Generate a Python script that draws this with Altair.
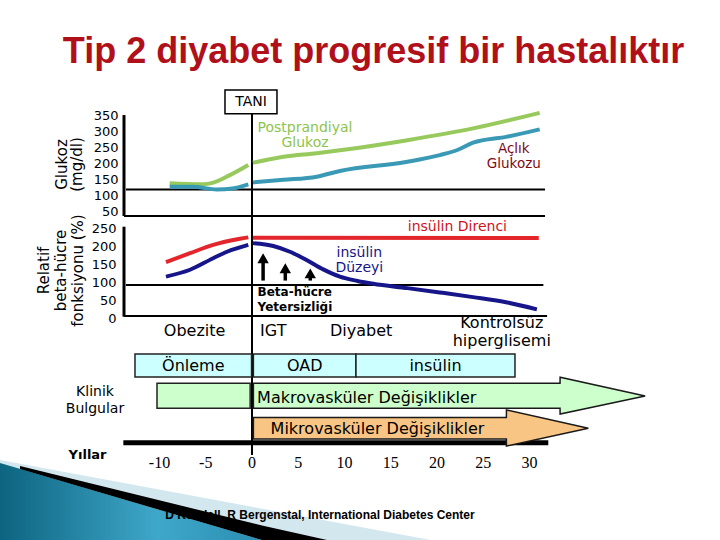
import altair as alt
import pandas as pd

# ----------------------------- data -----------------------------
year_ticks = [-10, -5, 0, 5, 10, 15, 20, 25, 30]
glucose_ticks = [50, 100, 150, 200, 250, 300, 350]
beta_ticks = [0, 50, 100, 150, 200, 250]

# Postprandial glucose (mg/dl), years relative to diagnosis
ppg_year = [-8.9, -5.6, -4.5, -2.4, -0.4, 0.1, 3.4, 7.0, 9.5, 16.8, 23.9, 31.1]
ppg_value = [137, 134, 137, 163, 195, 202, 221, 232, 241, 273, 310, 359]
# Fasting glucose (mg/dl)
fpg_year = [-8.9, -6.4, -3.8, -2.1, -0.4, 0.1, 3.4, 7.0, 9.5, 16.8, 20.3, 22.2, 23.9, 27.6, 31.1]
fpg_value = [126, 126, 118, 121, 134, 140, 148, 158, 176, 205, 226, 242, 265, 284, 307]
# Insulin resistance (%)
res_year = [-9.3, -6.7, -4.2, -1.3, -0.4, 0.1, 31.0]
res_value = [155, 180, 203, 220, 224, 223, 222]
# Insulin level (%)
ins_year = [-9.3, -6.7, -4.2, -2.7, -0.4, 0.1, 2.3, 4.1, 5.9, 7.7, 9.5, 11.4, 13.1, 16.8, 20.3, 23.9, 27.6, 30.8]
ins_value = [115, 134, 166, 184, 203, 208, 200, 184, 161, 135, 115, 103, 95, 83, 71, 58, 43, 24]
# Beta-cell failure arrows
arrow_year = [1.2, 3.6, 6.3]
arrow_top = [180, 152, 138]
arrow_base = [104, 104, 104]

glucose_ref = [118]
beta_ref = [92]

phase_label = ["Obezite", "IGT", "Diyabet", "Kontrolsüz\nhiperglisemi"]
phase_year = [-6.2, 2.3, 11.8, 27.0]

therapy_label = ["Önleme", "OAD", "insülin"]
therapy_start = [-12.65, 0.15, 11.24]
therapy_end = [-0.05, 11.24, 28.43]

macro_pre = [-10.27, -0.2]
macro_year = [0.15, 33.3, 33.31, 42.5]
micro_year = [0.15, 27.5, 27.51, 36.36]

# ----------------------------- layout / scales -----------------------------
FONT = "DejaVu Sans"
W, H = 720, 540
LEFT = 124
X0_PX, X_K = 252, 9.25          # year 0 position, px per year
XMIN = (LEFT - X0_PX) / X_K
XMAX = (W - X0_PX) / X_K
G50_PX, G_K = 211, 0.3177        # glucose scale geometry
B0_PX, B_K = 318, 0.36           # beta-function scale geometry
R0_PX, R_K = 331, 33             # row (lane) scale geometry

X_SCALE = alt.Scale(domain=[XMIN, XMAX], nice=False, zero=False)
GLU_SCALE = alt.Scale(domain=[50 - (H - G50_PX) / G_K, 50 + G50_PX / G_K], nice=False, zero=False)
BETA_SCALE = alt.Scale(domain=[-(H - B0_PX) / B_K, B0_PX / B_K], nice=False, zero=False)
ROW_SCALE = alt.Scale(domain=[-R0_PX / R_K, (H - R0_PX) / R_K], nice=False, zero=False, reverse=True)

GLU_AXIS = alt.Axis(orient="left", values=glucose_ticks, domain=False, ticks=False, tickSize=0, grid=False,
                    labelFont=FONT, labelFontSize=13, labelColor="black", labelPadding=6,
                    title=["Glukoz", "(mg/dl)"], titleFont=FONT, titleFontSize=15, titleFontWeight="normal",
                    titleColor="black", titleAngle=270, titleX=-63, titleY=164, titleAlign="center",
                    titleBaseline="middle", titleLineHeight=15)
BETA_AXIS = alt.Axis(orient="left", values=beta_ticks, domain=False, ticks=False, tickSize=0, grid=False,
                     labelFont=FONT, labelFontSize=13, labelColor="black", labelPadding=8,
                     title=["Relatif", "beta-hücre", "fonksiyonu (%)"], titleFont=FONT, titleFontSize=15,
                     titleFontWeight="normal", titleColor="black", titleAngle=270, titleX=-81, titleY=270,
                     titleAlign="center", titleBaseline="middle", titleLineHeight=17)


def ex(f):
    return alt.X(f"{f}:Q", scale=X_SCALE, axis=None)


def ex2(f):
    return alt.X2(f"{f}:Q")


def eg(f):
    return alt.Y(f"{f}:Q", scale=GLU_SCALE, axis=GLU_AXIS)


def eb(f):
    return alt.Y(f"{f}:Q", scale=BETA_SCALE, axis=BETA_AXIS)


def er(f):
    return alt.Y(f"{f}:Q", scale=ROW_SCALE, axis=None)


def ey2(f):
    return alt.Y2(f"{f}:Q")


def df(**cols):
    return pd.DataFrame(cols)


def text_layer(data, enc_y, **mark):
    style = dict(font=FONT, fontSize=16, color="black", align="center", baseline="middle", lineBreak="\n")
    style.update(mark)
    return alt.Chart(data).mark_text(**style).encode(x=ex("x"), y=enc_y("y"), text="t:N")


def curve(years, values, enc_y, color):
    return (alt.Chart(df(year=years, v=values))
            .transform_calculate(seg="datum.year < 0 ? 'pre' : 'post'")
            .mark_line(color=color, strokeWidth=4, interpolate="monotone")
            .encode(x=ex("year"), y=enc_y("v"), detail="seg:N"))


# ----------------------------- background (slide decoration, rows) -----------------------------
teal = alt.LinearGradient(gradient="linear", x1=0, x2=1, y1=0, y2=0,
                          stops=[alt.GradientStop(color="#0C6480", offset=0),
                                 alt.GradientStop(color="#3FA7C9", offset=0.6),
                                 alt.GradientStop(color="#2A8FB2", offset=1)])
sw_light = alt.Chart(df(x=[-27.24, 19.3], y=[3.91, 6.333], y2=[6.333, 6.333])).mark_area(
    color="#D3E7EF").encode(x=ex("x"), y=er("y"), y2=ey2("y2"))
sw_teal = alt.Chart(df(x=[-27.24, 1.08], y=[4.0, 6.333], y2=[6.333, 6.333])).mark_area(
    color=teal).encode(x=ex("x"), y=er("y"), y2=ey2("y2"))
credit = text_layer(df(x=[7.35], y=[5.58], t=["D Kendall, R Bergenstal, International Diabetes Center"]), er,
                    font="Liberation Sans", fontWeight="bold", fontSize=12)
sw_black = alt.Chart(df(x=[-25.08, 1.08, 8.11], y=[4.091, 5.894, 6.333], y2=[4.179, 6.333, 6.333])).mark_area(
    color="black").encode(x=ex("x"), y=er("y"), y2=ey2("y2"))
tani_line = alt.Chart(df(x=[0.0], y=[-6.58], y2=[3.76])).mark_rule(color="black", strokeWidth=2).encode(
    x=ex("x"), y=er("y"), y2=ey2("y2"))
year_line = alt.Chart(df(x=[-13.91], x2=[32.03], y=[3.385])).mark_rule(color="black", strokeWidth=5).encode(
    x=ex("x"), x2=ex2("x2"), y=er("y"))
background = alt.layer(sw_light, sw_teal, credit, sw_black, tani_line, year_line)

# ----------------------------- glucose panel -----------------------------
glu_h = alt.Chart(df(x=[-13.62], x2=[31.68], y=glucose_ref)).mark_rule(color="black", strokeWidth=2).encode(
    x=ex("x"), x2=ex2("x2"), y=eg("y"))
glu_v = alt.Chart(df(x=[XMIN], y=[352], y2=[34.3])).mark_rule(color="black", strokeWidth=3).encode(
    x=ex("x"), y=eg("y"), y2=ey2("y2"))
ppg = curve(ppg_year, ppg_value, eg, "#97C95C")
fpg = curve(fpg_year, fpg_value, eg, "#3A9AB6")
ppg_lab = text_layer(df(x=[5.73], y=[310.3], t=["Postprandiyal\nGlukoz"]), eg, fontSize=14,
                     color="#8DC44E", lineHeight=15)
fpg_lab = text_layer(df(x=[28.3], y=[246.0], t=["Açlık\nGlukozu"]), eg, fontSize=13.5,
                     color="#7F0A14", lineHeight=15)
glucose = alt.layer(glu_h, glu_v, ppg, fpg, ppg_lab, fpg_lab)

# ----------------------------- beta-cell panel -----------------------------
beta_h = alt.Chart(df(x=[XMIN, XMIN + 0.2, XMIN], x2=[31.68, 31.5, 31.9], y=[283.3, beta_ref[0], 5.6])).mark_rule(
    color="black", strokeWidth=2).encode(x=ex("x"), x2=ex2("x2"), y=eb("y"))
beta_v = alt.Chart(df(x=[XMIN], y=[253.6], y2=[3.6])).mark_rule(color="black", strokeWidth=3).encode(
    x=ex("x"), y=eb("y"), y2=ey2("y2"))
res = curve(res_year, res_value, eb, "#E3262B")
ins = curve(ins_year, ins_value, eb, "#16168A")
arrows = alt.Chart(df(x=arrow_year, top=arrow_top, base=arrow_base))
shafts = arrows.transform_calculate(stop="datum.top - 14").mark_rule(color="black", strokeWidth=3.5).encode(
    x=ex("x"), y=eb("base"), y2=ey2("stop"))
heads = arrows.mark_point(shape="triangle-up", filled=True, size=130, color="black", opacity=1, yOffset=5).encode(
    x=ex("x"), y=eb("top"))
res_lab = text_layer(df(x=[22.2], y=[253.6], t=["insülin Direnci"]), eb, fontSize=14, color="#D0141A")
ins_lab = text_layer(df(x=[11.6], y=[181.0], t=["insülin\nDüzeyi"]), eb, fontSize=14, color="#16168A",
                     lineHeight=15.5)
fail_lab = text_layer(df(x=[0.6], y=[73], t=["Beta-hücre\nYetersizliği"]), eb, fontSize=12, fontWeight="bold",
                      align="left", lineHeight=15)
beta = alt.layer(beta_h, beta_v, res, ins, shafts, heads, res_lab, ins_lab, fail_lab)

# ----------------------------- timeline rows -----------------------------
therapy = alt.Chart(df(t=therapy_label, x=therapy_start, x2=therapy_end, y=[0.697] * 3, y2=[1.394] * 3))
therapy_box = therapy.mark_rect(fill="#CCFFFF", stroke="#222222", strokeWidth=1.5).encode(
    x=ex("x"), x2=ex2("x2"), y=er("y"), y2=ey2("y2"))
therapy_txt = therapy.transform_calculate(mid="(datum.x + datum.x2) / 2", ty="1.06").mark_text(
    font=FONT, fontSize=16, color="black").encode(x=ex("mid"), y=er("ty"), text="t:N")
pre_box = alt.Chart(df(x=[macro_pre[0]], x2=[macro_pre[1]], y=[1.585], y2=[2.342])).mark_rect(
    fill="#CCFFCC", stroke="#222222", strokeWidth=1.5).encode(x=ex("x"), x2=ex2("x2"), y=er("y"), y2=ey2("y2"))
macro = alt.Chart(df(x=macro_year, y=[1.585, 1.585, 1.403, 1.97], y2=[2.342, 2.342, 2.515, 1.97])).mark_area(
    fill="#CCFFCC", stroke="#1A1A1A", strokeWidth=1.5, interpolate="linear").encode(
    x=ex("x"), y=er("y"), y2=ey2("y2"))
micro = alt.Chart(df(x=micro_year, y=[2.621, 2.621, 2.394, 2.948], y2=[3.273, 3.273, 3.485, 2.948])).mark_area(
    fill="#F8C585", stroke="#1A1A1A", strokeWidth=1.5, interpolate="linear").encode(
    x=ex("x"), y=er("y"), y2=ey2("y2"))
macro_txt = text_layer(df(x=[12.4], y=[2.04], t=["Makrovasküler Değişiklikler"]), er)
micro_txt = text_layer(df(x=[13.57], y=[2.98], t=["Mikrovasküler Değişiklikler"]), er)
phase_txt = text_layer(df(x=phase_year, y=[0.0, 0.0, 0.0, -0.25], t=phase_label), er, lineHeight=18)
klinik = text_layer(df(x=[-16.97], y=[1.84], t=["Klinik\nBulgular"]), er, fontSize=14, lineHeight=17.5)
yillar = text_layer(df(x=[-17.78], y=[3.76], t=["Yıllar"]), er, fontSize=13, fontWeight="bold")
years = text_layer(df(x=year_ticks, y=[4.0] * len(year_ticks), t=[str(v) for v in year_ticks]), er,
                   font="Liberation Serif", fontSize=16)
tani_box = alt.Chart(df(x=[-2.92], x2=[2.70], y=[-7.30], y2=[-6.58])).mark_rect(
    fill="white", stroke="black", strokeWidth=1.5).encode(x=ex("x"), x2=ex2("x2"), y=er("y"), y2=ey2("y2"))
tani_txt = text_layer(df(x=[-0.1], y=[-6.95], t=["TANI"]), er, fontSize=14)
title = text_layer(df(x=[13.14], y=[-8.12], t=["Tip 2 diyabet progresif bir hastalıktır"]), er,
                   font="Liberation Sans", fontWeight="bold", fontSize=36, color="#B0101A", baseline="alphabetic")
rows = alt.layer(therapy_box, therapy_txt, pre_box, macro, micro, macro_txt, micro_txt, phase_txt,
                 klinik, yillar, years, tani_box, tani_txt, title)

chart = (alt.layer(background, glucose, beta, rows)
         .resolve_scale(y="independent")
         .properties(width=W - LEFT, height=H, autosize=alt.AutoSizeParams(type="none"),
                     padding={"left": LEFT, "top": 0, "right": 0, "bottom": 0}, background="white")
         .configure_view(stroke=None))

chart.save("out.html", embed_options={"renderer": "svg", "actions": False})
